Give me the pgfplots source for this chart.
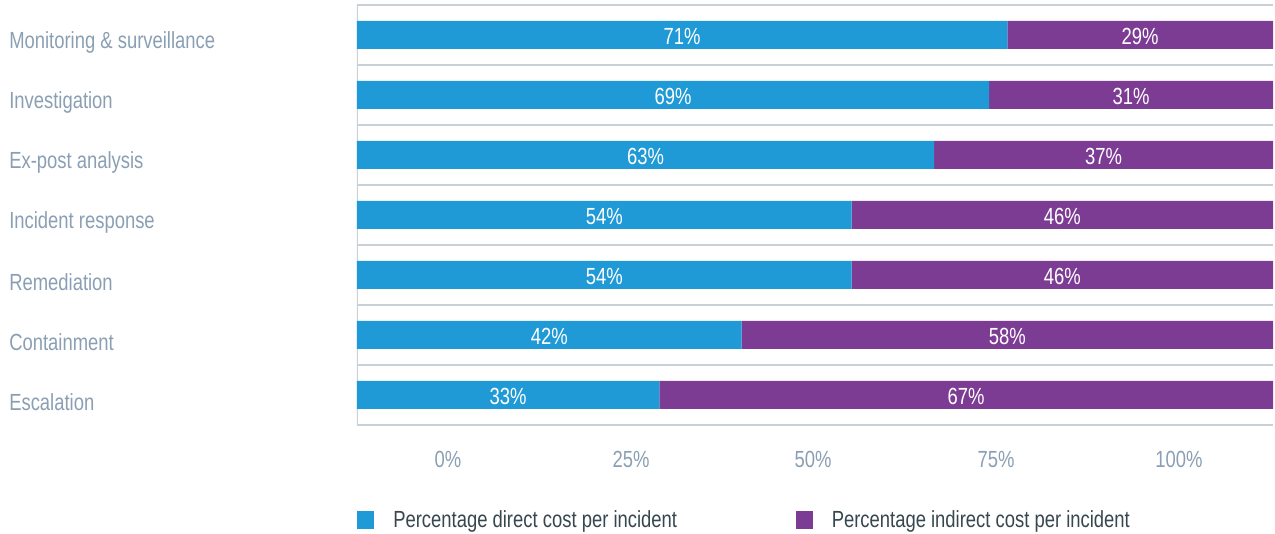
\documentclass[border=0pt]{standalone}
\usepackage{fontspec}
\setmainfont{Liberation Sans}[FakeStretch=0.79]
\usepackage{pgfplots}
\usepackage{pgfplotstable}
\pgfplotsset{compat=1.18}

\definecolor{cblue}{HTML}{1F9AD6}
\definecolor{cpurple}{HTML}{7D3C94}
\definecolor{clabel}{HTML}{8A9FB3}
\definecolor{clegend}{HTML}{37474F}
\definecolor{cgrid}{HTML}{C8D0D8}

% direct / indirect share per incident activity (top row = y 6)
\pgfplotstableread{
y d i
6 71 29
5 69 31
4 63 37
3 54 46
2 54 46
1 42 58
0 33 67
}\costdata

\begin{document}
\begin{tikzpicture}[font=\fontsize{17.5}{21}\selectfont]
\begin{axis}[
    name=ax,
    scale only axis,
    width=687pt, height=315pt,
    xbar stacked,
    bar width=21pt,
    xmin=0, xmax=100,
    ymin=-0.5, ymax=6.5,
    enlargelimits=false,
    axis line style={draw=none},
    major tick length=0pt, minor tick length=0pt,
    /pgf/number format/assume math mode=true,
    % odd offset of the tick labels is in the original
    xtick={9.93,29.91,49.78,69.76,89.74},
    xticklabels={0\%,25\%,50\%,75\%,100\%},
    xticklabel style={anchor=center, yshift=-26pt, text=clabel},
    ytick={0,...,6},
    yticklabels={Escalation,Containment,Remediation,Incident response,
        Ex-post analysis,Investigation,Monitoring \& surveillance},
    yticklabel style={anchor=west, inner sep=0pt, xshift=-261pt, yshift=-5.5pt, text=clabel},
    minor ytick={-0.5,0.5,...,6.5},
    yminorgrids=true,
    minor grid style={draw=cgrid, line width=1pt},
    visualization depends on={rawx \as \rx},
    nodes near coords={\pgfmathprintnumber{\rx}\%},
    % stacked bars already put the label mid-segment
    nodes near coords style={anchor=center, text=white, yshift=-1pt},
    legend columns=2,
    legend style={
        at={(axis description cs:0,0)}, anchor=west, yshift=-71.25pt,
        draw=none, inner sep=0pt, text=clegend,
        /tikz/every odd column/.append style={column sep=14.25pt},
        /tikz/every even column/.append style={column sep=89pt},
        nodes={inner sep=0pt},
    },
    legend image code/.code={\fill[#1] (0pt,-6.4pt) rectangle (12.75pt,6.4pt);},
]
\addplot+[fill=cblue, draw=none] table[x=d, y=y] {\costdata};
\addlegendentry{Percentage direct cost per incident}

\addplot+[fill=cpurple, draw=none] table[x=i, y=y] {\costdata};
\addlegendentry{Percentage indirect cost per incident}

\draw[cgrid, line width=1pt] (rel axis cs:0,0) -- (rel axis cs:0,1);
\end{axis}
\pgfresetboundingbox
\path[use as bounding box] ([xshift=-267.75pt,yshift=-81.75pt]ax.south west)
    rectangle ([xshift=1.5pt,yshift=3.75pt]ax.north east);
\end{tikzpicture}
\end{document}
